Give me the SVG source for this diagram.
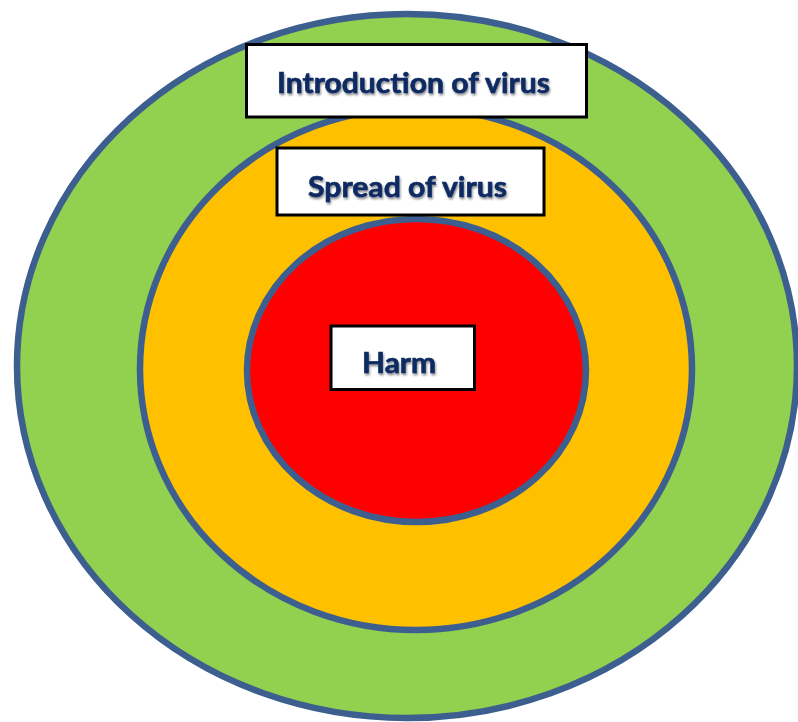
<svg xmlns="http://www.w3.org/2000/svg" width="798" height="722" viewBox="0 0 798 722">
  <defs>
    <style>
      .ring { stroke: #3D5F8F; stroke-width: 6.5; }
      .box { fill: #FFFFFF; stroke: #000000; stroke-width: 3; }
      .label { font-family: Lato, "Liberation Sans", "DejaVu Sans", sans-serif; font-weight: bold; font-size: 28px; fill: #0C2A62; stroke: #0C2A62; stroke-width: 0.6; filter: url(#soft); }
    </style>
    <filter id="soft" x="-10%" y="-30%" width="120%" height="160%">
      <feGaussianBlur in="SourceAlpha" stdDeviation="1.2" result="b"/>
      <feOffset in="b" dx="1" dy="1.5" result="o"/>
      <feFlood flood-color="#000000" flood-opacity="0.45"/>
      <feComposite in2="o" operator="in" result="s"/>
      <feMerge>
        <feMergeNode in="s"/>
        <feMergeNode in="SourceGraphic"/>
      </feMerge>
    </filter>
  </defs>
  <rect width="798" height="722" fill="#FFFFFF"/>
  <g id="ring-outer">
    <ellipse class="ring" cx="407" cy="366" rx="390" ry="352" fill="#92D050"/>
  </g>
  <g id="ring-middle">
    <ellipse class="ring" cx="416" cy="369" rx="276" ry="261" fill="#FFC000"/>
  </g>
  <g id="ring-inner">
    <ellipse class="ring" cx="416.5" cy="370.5" rx="169.5" ry="151.5" fill="#FF0000"/>
  </g>
  <g id="label-introduction">
    <rect class="box" x="246.5" y="44.5" width="340" height="72.5"/>
    <text class="label" x="277" y="93" textLength="273" lengthAdjust="spacingAndGlyphs">Introduction of virus</text>
  </g>
  <g id="label-spread">
    <rect class="box" x="277" y="148" width="267" height="67"/>
    <text class="label" x="308" y="197" textLength="199" lengthAdjust="spacingAndGlyphs">Spread of virus</text>
  </g>
  <g id="label-harm">
    <rect class="box" x="331" y="326" width="143.5" height="63.5"/>
    <text class="label" x="362" y="373" textLength="74" lengthAdjust="spacingAndGlyphs">Harm</text>
  </g>
</svg>
